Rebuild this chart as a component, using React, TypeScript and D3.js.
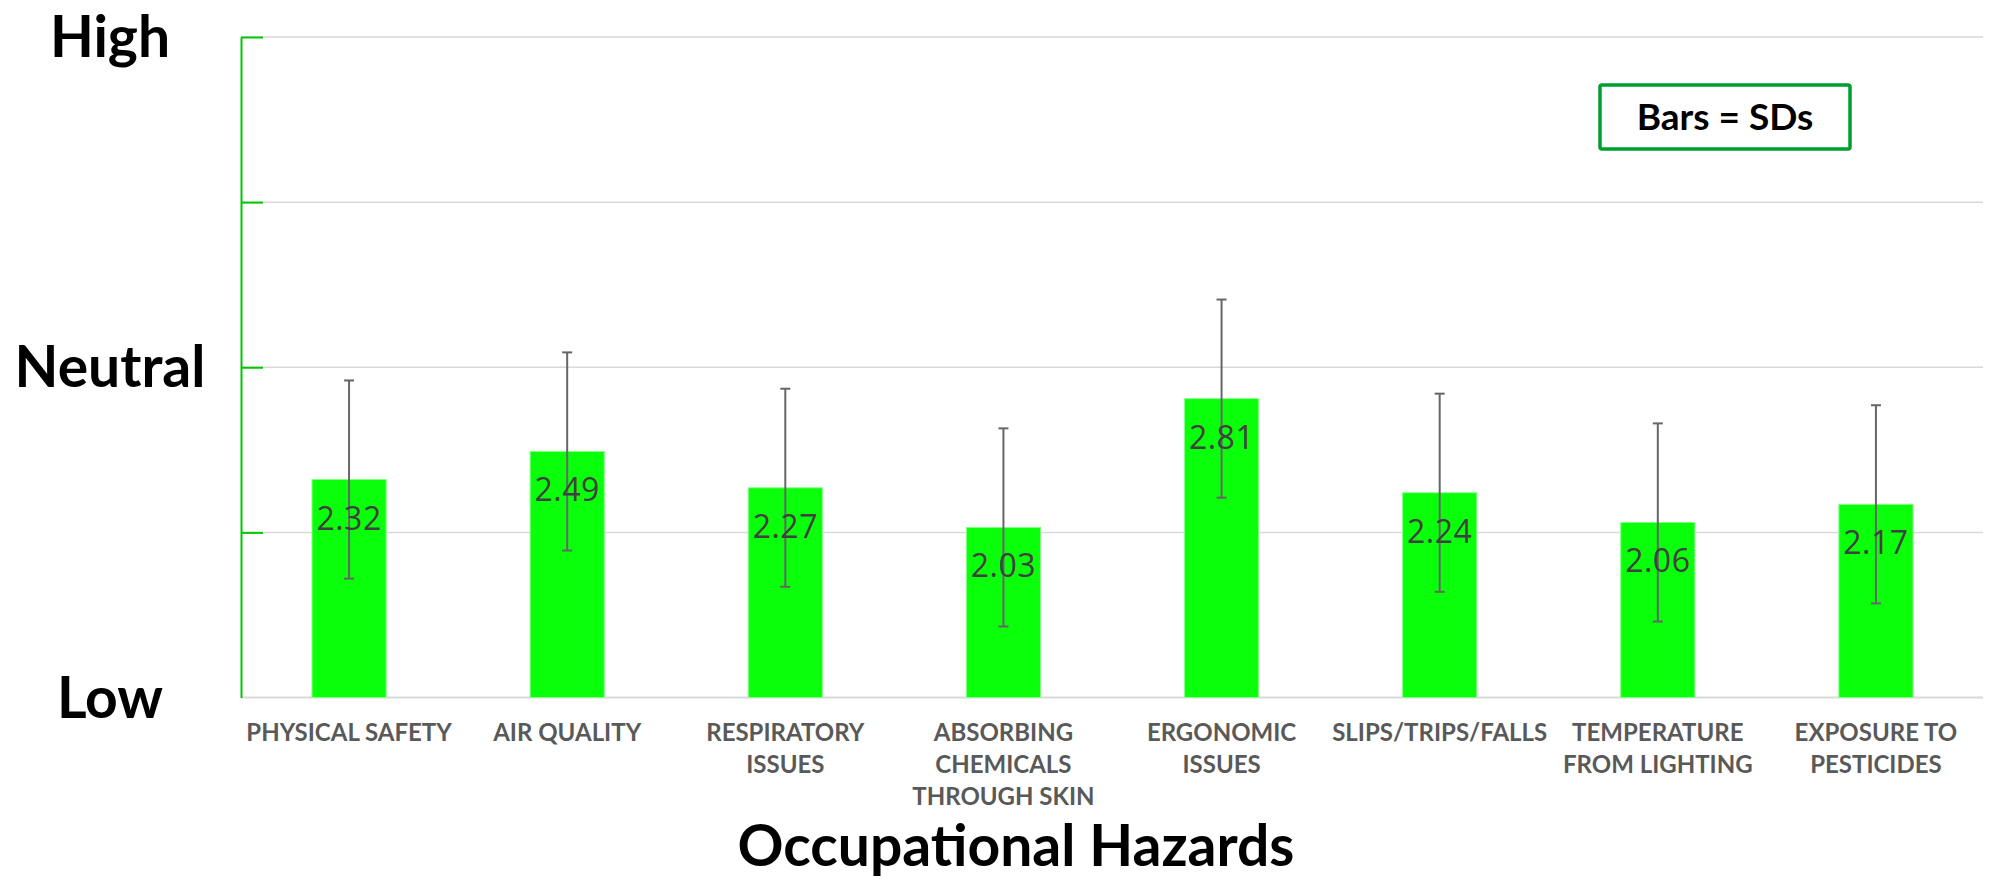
import React, { useRef, useEffect } from 'react';
import * as d3 from 'd3';

// hazard categories, tick label lines, mean scores and SDs
const categories = [
  'Physical Safety',
  'Air Quality',
  'Respiratory Issues',
  'Absorbing Chemicals Through Skin',
  'Ergonomic Issues',
  'Slips/Trips/Falls',
  'Temperature From Lighting',
  'Exposure To Pesticides',
];
const tickLines = [
  ['PHYSICAL SAFETY'],
  ['AIR QUALITY'],
  ['RESPIRATORY', 'ISSUES'],
  ['ABSORBING', 'CHEMICALS', 'THROUGH SKIN'],
  ['ERGONOMIC', 'ISSUES'],
  ['SLIPS/TRIPS/FALLS'],
  ['TEMPERATURE', 'FROM LIGHTING'],
  ['EXPOSURE TO', 'PESTICIDES'],
];
const means = [2.32, 2.49, 2.27, 2.03, 2.81, 2.24, 2.06, 2.17];
const sds = [0.6, 0.6, 0.6, 0.6, 0.6, 0.6, 0.6, 0.6];
const levelValues = [1, 3, 5];
const levelLabels = ['Low', 'Neutral', 'High'];
const gridValues = [1, 2, 3, 4, 5];

const W = 1989;
const H = 879;
const FONT = 'Lato, "Open Sans", sans-serif';

const App = () => {
  const ref = useRef<SVGSVGElement>(null);

  useEffect(() => {
    document.body.style.margin = '0';
    if (!ref.current) return;
    const svg = d3.select(ref.current);
    svg.selectAll('*').remove();
    svg.attr('width', W).attr('height', H);

    const x = d3.scaleBand<string>()
      .domain(categories)
      .range([240, 1985])
      .paddingInner(0.66)
      .paddingOuter(0.33);
    const y = d3.scaleLinear().domain([1, 5]).range([697.5, 37]);

    // gridlines
    svg.append('g')
      .selectAll('line')
      .data(gridValues)
      .enter().append('line')
      .attr('x1', 241)
      .attr('x2', 1983)
      .attr('y1', d => y(d))
      .attr('y2', d => y(d))
      .attr('stroke', '#d9d9d9')
      .attr('stroke-width', d => (d === 1 ? 2.2 : 1.5));

    // green y axis with inward ticks
    const axis = svg.append('g')
      .attr('transform', 'translate(241,0)')
      .call(d3.axisRight(y).tickValues([2, 3, 4, 5]).tickSize(22).tickSizeOuter(0).tickFormat(() => ''));
    axis.select('.domain').attr('stroke', '#00c800').attr('stroke-width', 2);
    axis.selectAll('.tick line').attr('stroke', '#00c800').attr('stroke-width', 2);

    // level labels
    svg.append('g')
      .selectAll('text')
      .data(levelValues)
      .enter().append('text')
      .attr('x', 110)
      .attr('y', d => y(d) + 20)
      .attr('text-anchor', 'middle')
      .attr('font-family', FONT)
      .attr('font-weight', 700)
      .attr('font-size', 57)
      .attr('fill', '#000')
      .text((d, i) => levelLabels[i]);

    const rows = categories.map((c, i) => ({ c, mean: means[i], sd: sds[i], lines: tickLines[i] }));

    // bars
    svg.append('g')
      .selectAll('rect')
      .data(rows)
      .enter().append('rect')
      .attr('x', d => x(d.c)!)
      .attr('width', x.bandwidth())
      .attr('y', d => y(d.mean))
      .attr('height', d => y(1) - y(d.mean))
      .attr('fill', '#0aff0a')
      .attr('stroke', '#86ff86')
      .attr('stroke-width', 1);

    // error bars
    const eb = svg.append('g')
      .selectAll('g')
      .data(rows)
      .enter().append('g')
      .attr('stroke', '#666')
      .attr('stroke-width', 2);
    const cx = (d: any) => x(d.c)! + x.bandwidth() / 2;
    eb.append('line')
      .attr('x1', cx).attr('x2', cx)
      .attr('y1', d => y(d.mean + d.sd))
      .attr('y2', d => y(d.mean - d.sd));
    eb.append('line')
      .attr('x1', d => cx(d) - 5).attr('x2', d => cx(d) + 5)
      .attr('y1', d => y(d.mean + d.sd)).attr('y2', d => y(d.mean + d.sd));
    eb.append('line')
      .attr('x1', d => cx(d) - 5).attr('x2', d => cx(d) + 5)
      .attr('y1', d => y(d.mean - d.sd)).attr('y2', d => y(d.mean - d.sd));

    // value labels
    svg.append('g')
      .selectAll('text')
      .data(rows)
      .enter().append('text')
      .attr('x', cx)
      .attr('y', d => y(d.mean) + 50)
      .attr('text-anchor', 'middle')
      .attr('font-family', '"Open Sans", sans-serif')
      .attr('font-size', 32)
      .attr('letter-spacing', 0.5)
      .attr('fill', '#404040')
      .text(d => d.mean.toFixed(2));

    // category labels
    const tl = svg.append('g')
      .selectAll('text')
      .data(rows)
      .enter().append('text')
      .attr('text-anchor', 'middle')
      .attr('font-family', FONT)
      .attr('font-weight', 700)
      .attr('font-size', 24)
      .attr('fill', '#595959');
    tl.selectAll('tspan')
      .data(d => d.lines.map(l => ({ l, cx: cx(d) })))
      .enter().append('tspan')
      .attr('x', d => d.cx)
      .attr('y', (d, i) => 740.5 + i * 32)
      .text(d => d.l);

    // axis title
    svg.append('text')
      .attr('x', 1016)
      .attr('y', 866)
      .attr('text-anchor', 'middle')
      .attr('font-family', FONT)
      .attr('font-weight', 700)
      .attr('font-size', 57)
      .attr('fill', '#000')
      .text('Occupational Hazards');

    // note box
    svg.append('rect')
      .attr('x', 1600).attr('y', 85)
      .attr('width', 250).attr('height', 64)
      .attr('rx', 2)
      .attr('fill', '#fff')
      .attr('stroke', '#009e2e')
      .attr('stroke-width', 3.5);
    svg.append('text')
      .attr('x', 1725)
      .attr('y', 130)
      .attr('text-anchor', 'middle')
      .attr('font-family', FONT)
      .attr('font-weight', 700)
      .attr('font-size', 37)
      .attr('fill', '#000')
      .text('Bars = SDs');
  }, []);

  return <svg ref={ref} style={{ display: 'block' }} />;
};

export default App;
